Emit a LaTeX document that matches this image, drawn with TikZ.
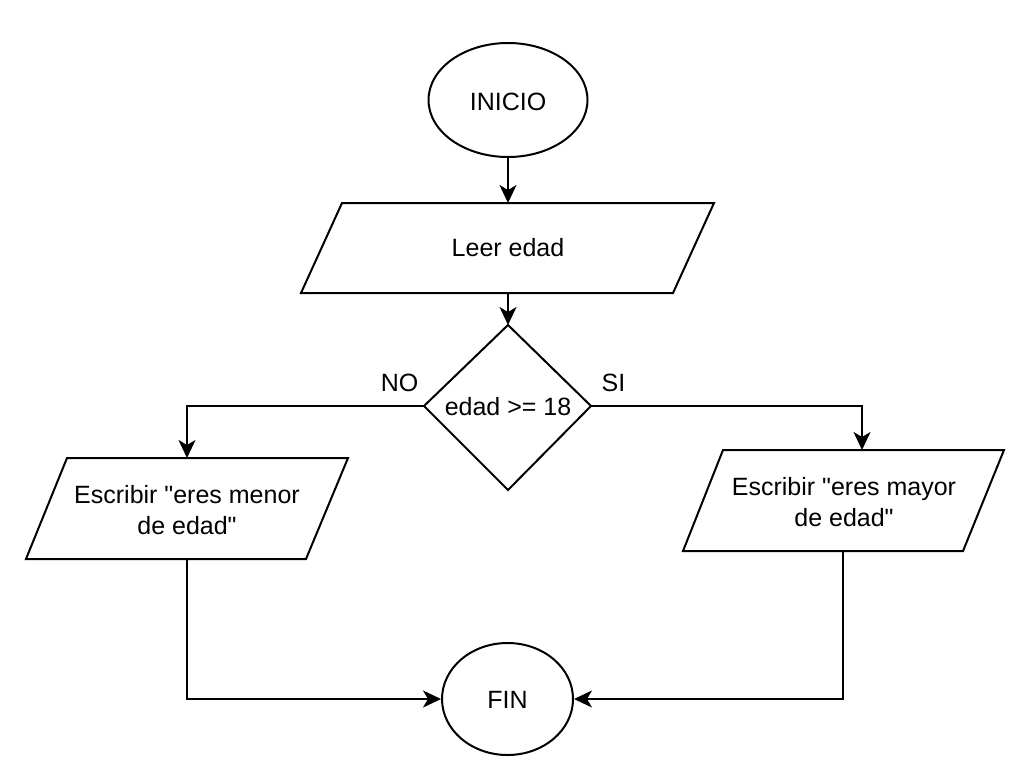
\documentclass[tikz,border=0pt]{standalone}
\usepackage{fontspec}
\setmainfont{Liberation Sans}[Ligatures=TeXOff]
\usetikzlibrary{shapes.geometric,arrows.meta}
\begin{document}
\begin{tikzpicture}[x=1pt,y=-1pt,
  every node/.style={font=\fontsize{25}{31}\selectfont, text=black},
  shapeline/.style={draw=black, line width=2pt, line join=miter},
  term/.style={shapeline, ellipse, inner sep=0pt},
  conn/.style={draw=black, line width=2pt, -{Stealth[length=18pt,width=17pt,inset=5pt]}},
  lbl/.style={inner sep=0pt, align=center}]
\useasboundingbox[fill=white] (0,0) rectangle (1032,765);

% INICIO
\node[term, minimum width=159pt, minimum height=114pt] (inicio) at (508,100) {};
\node[lbl] (tinicio) at (508,102) {INICIO};

% Leer edad
\coordinate (leA) at (342,203);
\coordinate (leB) at (714,203);
\coordinate (leC) at (673,293);
\coordinate (leD) at (301,293);
\coordinate (leTop) at (508,203);
\coordinate (leBot) at (508,293);
\draw[shapeline] (leA) -- (leB) -- (leC) -- (leD) -- cycle;
\node[lbl] (tleer) at (508,248) {Leer edad};

% Decision
\coordinate (dT) at (508,325);
\coordinate (dR) at (591,406);
\coordinate (dB) at (508,490);
\coordinate (dL) at (424,406);
\draw[shapeline] (dT) -- (dR) -- (dB) -- (dL) -- cycle;
\node[lbl] (tdec) at (508,407) {edad >= 18};

% Left output
\coordinate (lA) at (67,458);
\coordinate (lB) at (348,458);
\coordinate (lC) at (306,559);
\coordinate (lD) at (26,559);
\coordinate (lTop) at (187,458);
\coordinate (lBot) at (187,559);
\draw[shapeline] (lA) -- (lB) -- (lC) -- (lD) -- cycle;
\node[lbl] (tleft) at (187,510) {Escribir "eres menor\\de edad"};

% Right output
\coordinate (rA) at (723,450);
\coordinate (rB) at (1004,450);
\coordinate (rC) at (963,551);
\coordinate (rD) at (683,551);
\coordinate (rTop) at (862,450);
\coordinate (rBot) at (843,551);
\draw[shapeline] (rA) -- (rB) -- (rC) -- (rD) -- cycle;
\node[lbl] (tright) at (844,502) {Escribir "eres mayor\\de edad"};

% FIN
\node[term, minimum width=131pt, minimum height=112pt] (fin) at (507.5,699) {};
\node[lbl] (tfin) at (507.5,700) {FIN};

% Labels
\node[lbl] (no) at (399.5,383) {NO};
\node[lbl] (si) at (613.5,383) {SI};

% Connectors
\draw[conn] (inicio.south) -- (leTop);
\draw[conn] (leBot) -- (dT);
\draw[conn] (dL) -| (lTop);
\draw[conn] (dR) -| (rTop);
\draw[conn] (lBot) |- (fin.west);
\draw[conn] (rBot) |- (fin.east);
\end{tikzpicture}
\end{document}
